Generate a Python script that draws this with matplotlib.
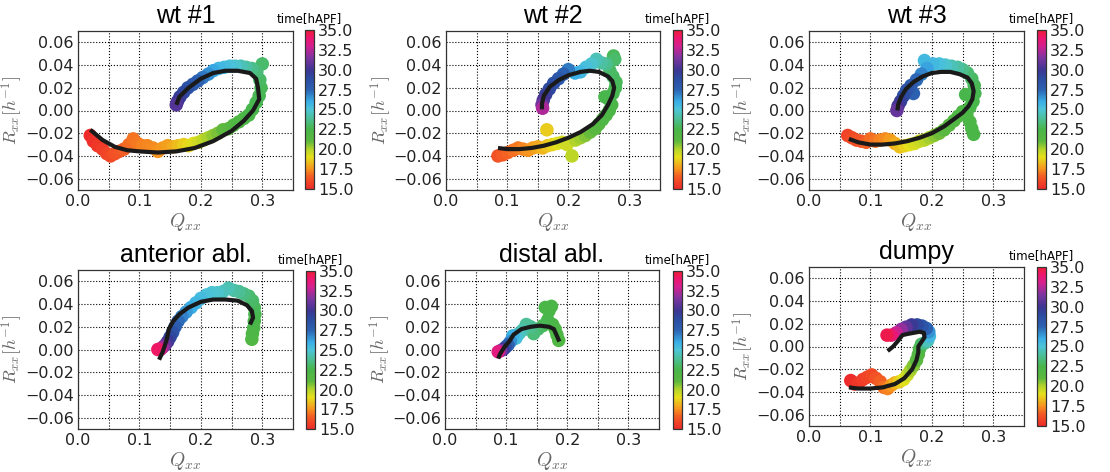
import numpy as np
import matplotlib
import matplotlib.pyplot as plt
from matplotlib.colors import LinearSegmentedColormap, Normalize
from matplotlib.cm import ScalarMappable

plt.rcParams['mathtext.fontset'] = 'cm'
plt.rcParams['font.family'] = 'DejaVu Sans'

# (Q_xx, R_xx, time[hAPF]) scatter points per panel
wt1_pts = [(0.020,-0.022,15.0),(0.025,-0.027,15.2),(0.032,-0.031,15.4),(0.040,-0.034,15.6),
           (0.047,-0.038,15.8),(0.053,-0.040,16.0),(0.060,-0.038,16.2),(0.067,-0.036,16.4),
           (0.075,-0.034,16.6),(0.083,-0.030,16.8),(0.090,-0.025,17.0),(0.097,-0.029,17.1),
           (0.105,-0.031,17.2),(0.113,-0.031,17.3),(0.122,-0.033,17.4),(0.130,-0.036,17.5),
           (0.138,-0.033,17.6),(0.146,-0.031,17.8),(0.155,-0.032,18.0),(0.163,-0.031,18.3),
           (0.172,-0.030,18.6),(0.180,-0.031,18.9),(0.188,-0.029,19.2),(0.196,-0.028,19.5),
           (0.204,-0.026,19.8),(0.212,-0.024,20.1),(0.220,-0.022,20.4),(0.228,-0.020,20.7),
           (0.236,-0.017,21.0),(0.245,-0.016,21.3),(0.253,-0.013,21.6),(0.262,-0.010,21.9),
           (0.270,-0.007,22.1),(0.278,-0.004,22.3),(0.284,0.001,22.5),(0.290,0.007,22.6),
           (0.295,0.013,22.7),(0.298,0.020,22.8),(0.296,0.027,23.0),(0.300,0.041,23.1),
           (0.291,0.034,23.3),(0.283,0.037,23.6),(0.274,0.038,24.0),(0.265,0.039,24.4),
           (0.256,0.039,24.8),(0.247,0.039,25.1),(0.238,0.038,25.4),(0.229,0.037,25.7),
           (0.220,0.035,26.1),(0.212,0.032,26.6),(0.203,0.029,27.1),(0.195,0.026,27.5),
           (0.187,0.023,28.0),(0.179,0.020,28.5),(0.172,0.016,29.0),(0.166,0.012,29.5),
           (0.162,0.008,30.0),(0.160,0.005,30.5)]
wt1_fit = [(0.020,-0.017),(0.040,-0.026),(0.060,-0.032),(0.080,-0.035),(0.100,-0.036),
           (0.130,-0.037),(0.160,-0.036),(0.190,-0.033),(0.220,-0.027),(0.250,-0.018),
           (0.270,-0.009),(0.285,0.000),(0.295,0.010),(0.293,0.020),(0.290,0.028),
           (0.280,0.033),(0.260,0.035),(0.240,0.035),(0.220,0.033),(0.200,0.028),
           (0.180,0.020),(0.165,0.012),(0.160,0.005)]

wt2_pts = [(0.085,-0.040,16.3),(0.093,-0.039,16.5),(0.101,-0.037,16.7),(0.110,-0.035,16.9),
           (0.118,-0.033,17.1),(0.126,-0.034,17.3),(0.134,-0.035,17.5),(0.142,-0.033,17.7),
           (0.150,-0.032,17.9),(0.158,-0.033,18.2),(0.166,-0.031,18.5),(0.165,-0.017,18.6),
           (0.174,-0.030,18.8),(0.182,-0.029,19.1),(0.190,-0.028,19.3),(0.198,-0.030,19.5),
           (0.206,-0.040,19.8),(0.212,-0.026,20.0),(0.220,-0.024,20.3),(0.228,-0.022,20.6),
           (0.236,-0.019,20.9),(0.244,-0.016,21.2),(0.250,-0.012,21.5),(0.256,-0.008,21.8),
           (0.262,-0.004,22.0),(0.267,0.000,22.2),(0.271,0.005,22.4),(0.260,0.012,22.5),
           (0.266,0.010,22.5),(0.273,0.015,22.6),(0.277,0.020,22.7),(0.278,0.025,22.8),
           (0.273,0.030,22.9),(0.268,0.035,23.0),(0.274,0.048,22.8),(0.276,0.045,23.1),
           (0.262,0.041,23.7),(0.254,0.042,24.0),(0.246,0.045,24.4),(0.238,0.041,24.8),
           (0.229,0.038,25.2),(0.220,0.034,25.6),(0.211,0.033,26.0),(0.200,0.036,27.0),
           (0.192,0.032,27.6),(0.184,0.028,28.1),(0.176,0.024,28.6),(0.169,0.019,29.1),
           (0.163,0.014,29.6),(0.159,0.009,30.3),(0.157,0.005,31.2),(0.158,0.002,32.3)]
wt2_fit = [(0.085,-0.033),(0.100,-0.034),(0.120,-0.034),(0.140,-0.033),(0.160,-0.031),
           (0.180,-0.028),(0.200,-0.024),(0.220,-0.019),(0.240,-0.012),(0.255,-0.004),
           (0.265,0.005),(0.272,0.013),(0.275,0.020),(0.272,0.026),(0.265,0.030),
           (0.250,0.034),(0.235,0.035),(0.220,0.034),(0.200,0.031),(0.185,0.027),
           (0.170,0.021),(0.160,0.013),(0.157,0.006),(0.157,0.001)]

wt3_pts = [(0.063,-0.022,15.8),(0.070,-0.024,16.0),(0.077,-0.026,16.2),(0.085,-0.027,16.4),
           (0.093,-0.028,16.6),(0.100,-0.025,16.8),(0.108,-0.027,17.0),(0.116,-0.026,17.2),
           (0.124,-0.025,17.4),(0.132,-0.026,17.7),(0.140,-0.029,18.0),(0.148,-0.032,18.4),
           (0.156,-0.031,18.7),(0.164,-0.030,19.0),(0.172,-0.029,19.3),(0.180,-0.027,19.6),
           (0.188,-0.026,19.9),(0.196,-0.024,20.2),(0.204,-0.022,20.5),(0.212,-0.020,20.8),
           (0.220,-0.017,21.1),(0.228,-0.013,21.4),(0.236,-0.009,21.7),(0.243,-0.005,21.9),
           (0.250,-0.001,22.0),(0.257,-0.004,22.1),(0.262,-0.010,22.2),(0.265,-0.016,22.2),
           (0.268,-0.021,22.3),(0.262,0.003,22.4),(0.255,0.014,22.5),(0.267,0.008,22.5),
           (0.270,0.015,22.6),(0.269,0.022,22.7),(0.265,0.028,22.9),(0.258,0.033,23.2),
           (0.250,0.036,23.6),(0.242,0.038,24.0),(0.232,0.039,24.4),(0.222,0.040,24.8),
           (0.212,0.041,25.2),(0.202,0.041,25.5),(0.188,0.044,25.6),(0.192,0.037,26.2),
           (0.183,0.032,26.8),(0.175,0.027,27.4),(0.170,0.015,27.6),(0.166,0.022,27.9),
           (0.159,0.018,28.4),(0.154,0.013,28.9),(0.149,0.008,29.5),(0.145,0.004,30.2),
           (0.143,0.000,31.0)]
wt3_fit = [(0.065,-0.025),(0.080,-0.028),(0.100,-0.030),(0.120,-0.030),(0.140,-0.029),
           (0.160,-0.027),(0.180,-0.024),(0.200,-0.020),(0.220,-0.014),(0.235,-0.008),
           (0.250,-0.002),(0.260,0.004),(0.266,0.010),(0.268,0.017),(0.265,0.024),
           (0.258,0.029),(0.245,0.032),(0.230,0.034),(0.215,0.034),(0.200,0.033),
           (0.185,0.030),(0.170,0.025),(0.158,0.019),(0.150,0.012),(0.145,0.005),
           (0.144,0.000)]

ant_pts = [(0.283,0.009,21.8),(0.284,0.014,22.0),(0.286,0.019,22.2),(0.287,0.025,22.4),
           (0.288,0.031,22.6),(0.287,0.037,22.8),(0.284,0.043,23.0),(0.278,0.047,23.2),
           (0.270,0.049,23.5),(0.262,0.051,23.8),(0.254,0.052,24.0),(0.245,0.054,24.3),
           (0.236,0.051,24.5),(0.227,0.050,24.7),(0.218,0.050,24.9),(0.209,0.048,25.1),
           (0.200,0.045,25.4),(0.192,0.041,25.7),(0.184,0.037,26.0),(0.176,0.033,26.4),
           (0.169,0.029,26.8),(0.163,0.025,27.3),(0.158,0.020,27.8),(0.154,0.015,28.4),
           (0.150,0.011,29.0),(0.146,0.007,29.8),(0.142,0.004,30.8),(0.138,0.002,32.0),
           (0.134,0.000,33.2),(0.130,0.000,34.2)]
ant_fit = [(0.280,0.022),(0.285,0.028),(0.283,0.034),(0.275,0.039),(0.260,0.043),
           (0.240,0.044),(0.220,0.044),(0.200,0.042),(0.180,0.037),(0.165,0.031),
           (0.155,0.025),(0.148,0.018),(0.144,0.008),(0.138,-0.002),(0.132,-0.009)]

dis_pts = [(0.186,0.008,21.8),(0.183,0.013,22.0),(0.180,0.018,22.1),(0.176,0.022,22.2),
           (0.174,0.038,22.3),(0.170,0.034,22.4),(0.164,0.037,22.4),(0.168,0.026,22.5),
           (0.160,0.021,22.7),(0.152,0.018,23.0),(0.145,0.014,23.3),(0.140,0.020,23.6),
           (0.133,0.022,23.9),(0.127,0.017,24.2),(0.121,0.014,24.6),(0.116,0.010,25.2),
           (0.111,0.012,25.8),(0.107,0.007,26.6),(0.103,0.004,27.5),(0.099,0.002,28.5),
           (0.095,0.000,29.8),(0.091,-0.001,31.5),(0.087,-0.002,33.5)]
dis_fit = [(0.187,0.007),(0.183,0.012),(0.178,0.018),(0.170,0.020),(0.155,0.021),
           (0.140,0.020),(0.125,0.018),(0.112,0.013),(0.105,0.007),(0.097,0.002),
           (0.090,-0.004),(0.087,-0.008)]

dpy_pts = [(0.068,-0.030,15.0),(0.074,-0.033,15.2),(0.081,-0.032,15.4),(0.088,-0.029,15.6),
           (0.095,-0.027,15.8),(0.102,-0.025,16.0),(0.109,-0.028,16.3),(0.116,-0.031,16.6),
           (0.122,-0.036,16.9),(0.128,-0.037,17.2),(0.134,-0.034,17.6),(0.140,-0.032,18.1),
           (0.147,-0.031,18.6),(0.154,-0.029,19.1),(0.160,-0.025,19.6),(0.165,-0.021,20.1),
           (0.170,-0.017,20.6),(0.175,-0.012,21.1),(0.178,-0.007,21.6),(0.180,-0.002,22.1),
           (0.183,0.002,22.8),(0.188,0.003,23.6),(0.193,0.005,24.5),(0.196,0.009,25.5),
           (0.195,0.013,26.5),(0.191,0.016,27.5),(0.184,0.018,28.3),(0.176,0.019,29.0),
           (0.167,0.019,29.8),(0.158,0.017,30.8),(0.150,0.015,31.8),(0.142,0.012,32.8),
           (0.134,0.010,33.8),(0.127,0.010,34.6)]
dpy_fit = [(0.065,-0.036),(0.080,-0.037),(0.100,-0.037),(0.120,-0.036),(0.140,-0.033),
           (0.155,-0.028),(0.168,-0.020),(0.175,-0.012),(0.178,-0.005),(0.178,0.000),
           (0.183,0.004),(0.188,0.008),(0.187,0.012),(0.180,0.013),(0.170,0.012),
           (0.160,0.011),(0.152,0.010),(0.145,0.005),(0.137,0.000),(0.128,-0.004)]

titles = ['wt #1', 'wt #2', 'wt #3', 'anterior abl.', 'distal abl.', 'dumpy']
points = [wt1_pts, wt2_pts, wt3_pts, ant_pts, dis_pts, dpy_pts]
fits = [wt1_fit, wt2_fit, wt3_fit, ant_fit, dis_fit, dpy_fit]
x_ticks = [0.0, 0.1, 0.2, 0.3]
x_grid = [0.05, 0.15, 0.25]
y_ticks = [-0.06, -0.04, -0.02, 0.0, 0.02, 0.04, 0.06]
cbar_ticks = [15.0, 17.5, 20.0, 22.5, 25.0, 27.5, 30.0, 32.5, 35.0]

# colour scale for time (red -> yellow -> green -> blue -> magenta -> red)
nodes = [(15.0, '#ee2a2a'), (16.5, '#f35a24'), (17.5, '#f7931e'), (19.0, '#e6e01c'),
         (20.0, '#b3d42a'), (21.0, '#5cb83f'), (22.5, '#48b649'), (24.0, '#4cc0a0'),
         (25.0, '#4dc5d8'), (26.0, '#3aaee6'), (27.5, '#2c62b2'), (29.0, '#2c4aa0'),
         (30.0, '#3d3592'), (31.5, '#7b35a0'), (33.0, '#d42090'), (34.0, '#ee1670'),
         (35.0, '#ee1c34')]
cmap = LinearSegmentedColormap.from_list('timecm', [((v - 15) / 20, c) for v, c in nodes])
norm = Normalize(15, 35)

W, H = 1110, 472
fig = plt.figure(figsize=(W / 100, H / 100), dpi=100)

def box(l, t, r, b):
    return [l / W, 1 - b / H, (r - l) / W, (b - t) / H]

ax_px = [(78, 31, 293, 190), (446, 31, 660, 190), (809, 31, 1024, 190),
         (78, 270, 293, 429), (445, 270, 659, 429), (809, 267, 1024, 426)]
cb_px = [(305, 30, 314, 189), (673, 30, 682, 189), (1037, 30, 1046, 189),
         (306, 271, 315, 429), (673, 271, 682, 429), (1037, 267, 1046, 426)]

for i in range(6):
    ax = fig.add_axes(box(*ax_px[i]))
    p = np.array(points[i])
    f = np.array(fits[i])
    ax.scatter(p[:, 0], p[:, 1], c=p[:, 2], cmap=cmap, norm=norm, s=95,
               edgecolors='none', zorder=2)
    ax.plot(f[:, 0], f[:, 1], color='#1a1a1a', lw=3, zorder=3,
            solid_capstyle='butt')
    ax.set_xlim(0, 0.35)
    ax.set_ylim(-0.07, 0.07)
    ax.set_xticks(x_ticks)
    ax.set_xticks(x_grid, minor=True)
    ax.set_yticks(y_ticks)
    ax.set_xticklabels(['%.1f' % v for v in x_ticks])
    ax.set_yticklabels([('%.2f' % v).replace('-', '\u2212') for v in y_ticks])
    ax.grid(True, which='both', color='k', linestyle=':', linewidth=0.8)
    ax.tick_params(which='both', length=0, labelsize=11.5, pad=3, colors='#222222')
    for s in ax.spines.values():
        s.set_color('#333333')
        s.set_linewidth(0.9)
    ax.set_xlabel('$Q_{xx}$', fontsize=14, color='#666666', labelpad=1)
    ax.set_ylabel('$R_{xx}[h^{-1}]$', fontsize=13, color='#666666')
    ax.yaxis.set_label_coords(-0.245, 0.5)
    ax.set_title(titles[i], fontsize=18, family='Liberation Sans', pad=6)

    cax = fig.add_axes(box(*cb_px[i]))
    cb = fig.colorbar(ScalarMappable(norm=norm, cmap=cmap), cax=cax, ticks=cbar_ticks)
    cb.ax.set_yticklabels(['%.1f' % v for v in cbar_ticks])
    cb.ax.tick_params(length=0, labelsize=11.5, pad=3, colors='#222222')
    cb.outline.set_linewidth(0.9)
    cb.outline.set_edgecolor('#333333')
    cax.set_title('time[hAPF]', fontsize=8.5, pad=6)

fig.savefig('out.png', dpi=100)
